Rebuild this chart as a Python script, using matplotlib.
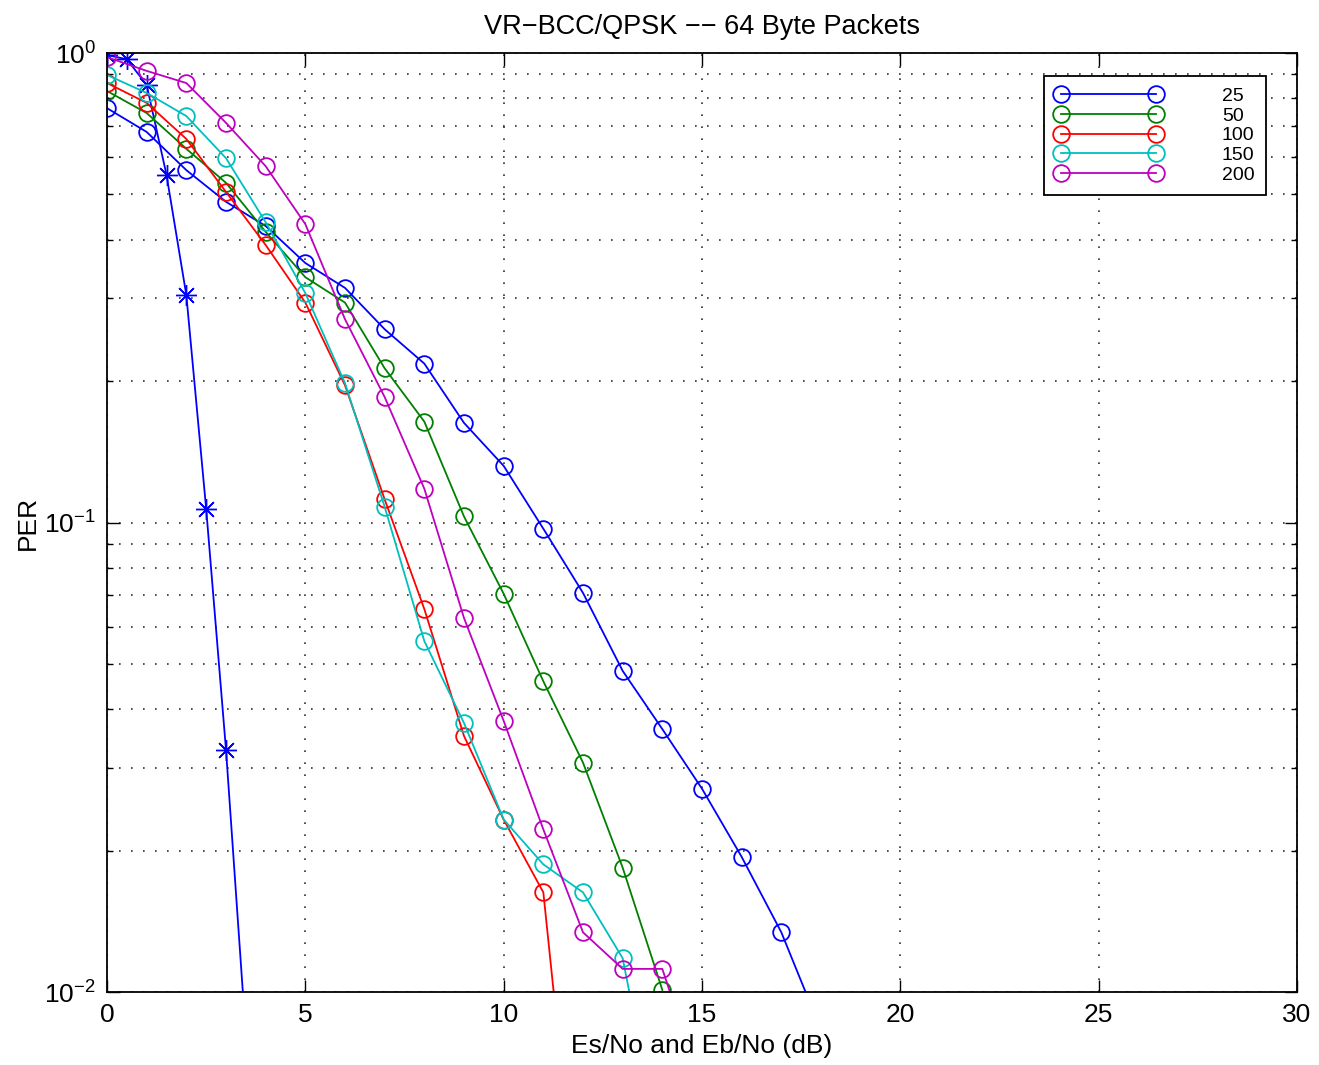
import numpy as np
import matplotlib
matplotlib.use("Agg")
import matplotlib.pyplot as plt
from matplotlib.ticker import LogLocator, FixedLocator

plt.rcParams['font.family'] = ['Liberation Sans', 'DejaVu Sans']
plt.rcParams['mathtext.fontset'] = 'custom'
plt.rcParams['mathtext.rm'] = 'Liberation Sans'
plt.rcParams['mathtext.it'] = 'Liberation Sans:italic'
plt.rcParams['mathtext.bf'] = 'Liberation Sans:bold'

# Uncoded reference curve (asterisks)
snr_ref = [0, 0.5, 1, 1.5, 2, 2.5, 3, 3.5]
per_ref = [0.99, 0.97, 0.855, 0.55, 0.305, 0.107, 0.0328, 0.0081]

# Coded curves, one per parameter value
labels = ['25', '50', '100', '150', '200']

snr_25 = list(range(0, 19))
per_25 = [0.763, 0.679, 0.563, 0.482, 0.428, 0.357, 0.316, 0.258, 0.218, 0.163,
          0.132, 0.097, 0.0708, 0.0483, 0.0363, 0.0271, 0.0194, 0.0134, 0.0083]

snr_50 = list(range(0, 15))
per_50 = [0.83, 0.745, 0.625, 0.529, 0.416, 0.333, 0.294, 0.213, 0.164, 0.103,
          0.0705, 0.0459, 0.0308, 0.0184, 0.0101]

snr_100 = list(range(0, 13))
per_100 = [0.863, 0.783, 0.656, 0.506, 0.390, 0.294, 0.196, 0.112, 0.0654, 0.0351,
           0.0233, 0.0163, 0.0025]

snr_150 = list(range(0, 15))
per_150 = [0.898, 0.822, 0.734, 0.597, 0.436, 0.308, 0.198, 0.108, 0.0559, 0.0374,
           0.0233, 0.0187, 0.0163, 0.0118, 0.0044]

snr_200 = list(range(0, 16))
per_200 = [0.98, 0.916, 0.863, 0.710, 0.574, 0.432, 0.271, 0.185, 0.118, 0.0626,
           0.0378, 0.0222, 0.0134, 0.0112, 0.0112, 0.0062]

colors = [(0, 0, 1), (0, 0.5, 0), (1, 0, 0), (0, 0.75, 0.75), (0.75, 0, 0.75)]

fig = plt.figure(figsize=(13.19, 10.65), dpi=100)
ax = fig.add_axes([107 / 1319, 1 - 992 / 1065, 1190 / 1319, 939 / 1065])

ax.semilogy(snr_ref, per_ref, color=colors[0], marker=(8, 2, 0), markersize=15,
            linewidth=1.3, markeredgewidth=1.0)

series = [(snr_25, per_25), (snr_50, per_50), (snr_100, per_100),
          (snr_150, per_150), (snr_200, per_200)]
handles = []
for (x, y), c, lab in zip(series, colors, labels):
    h, = ax.semilogy(x, y, color=c, marker='o', markersize=12, markerfacecolor='none',
                     markeredgewidth=1.3, linewidth=1.3, label=lab)
    handles.append(h)

ax.set_xlim(0, 30)
ax.set_ylim(0.01, 1)
ax.xaxis.set_major_locator(FixedLocator([0, 5, 10, 15, 20, 25, 30]))
ax.yaxis.set_major_locator(LogLocator(base=10, numticks=10))
ax.yaxis.set_minor_locator(LogLocator(base=10, subs=np.arange(2, 10), numticks=10))

ax.tick_params(which='both', direction='in', top=True, right=True, labelsize=19,
               width=1.0, color='black')
ax.tick_params(which='major', length=9, pad=8)
ax.tick_params(which='minor', length=4.5)

grid_style = dict(color='#303030', linestyle=(0, (1, 6.2)), linewidth=1.2)
ax.grid(True, which='major', axis='both', **grid_style)
ax.grid(True, which='minor', axis='y', **grid_style)

for sp in ax.spines.values():
    sp.set_linewidth(1.3)

ax.set_title('VR\u2212BCC/QPSK \u2212\u2212 64 Byte Packets', fontsize=19.5, pad=14)
ax.set_xlabel('Es/No and Eb/No (dB)', fontsize=19, labelpad=5)
ax.set_ylabel('PER', fontsize=19, labelpad=3)

leg = ax.legend(handles=handles, loc='upper right', bbox_to_anchor=(0.974, 0.9755),
                borderaxespad=0, numpoints=2, handlelength=5.45, handletextpad=3.1,
                borderpad=0.6, labelspacing=0.1, fontsize=14, fancybox=False,
                framealpha=1, edgecolor='black')
leg.get_frame().set_linewidth(1.3)

fig.savefig('out.png', dpi=100, facecolor='white')
